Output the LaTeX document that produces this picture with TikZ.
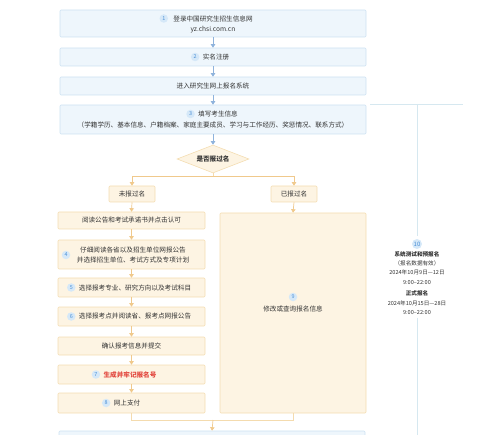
\documentclass[tikz,border=0pt]{standalone}
\usepackage{fontspec}
\setmainfont{Noto Sans CJK SC}
\usetikzlibrary{arrows.meta,shapes.geometric,positioning}
\definecolor{bluebg}{HTML}{EEF6FC}
\definecolor{bluebd}{HTML}{CDE2F1}
\definecolor{bluear}{HTML}{8FB3DC}
\definecolor{orbg}{HTML}{FDF4E3}
\definecolor{orbd}{HTML}{F4DDB2}
\definecolor{orar}{HTML}{F0C98C}
\definecolor{numbg}{HTML}{D5E8F8}
\definecolor{numfg}{HTML}{4A8FD6}
\definecolor{redtx}{HTML}{E2463D}
\definecolor{maintx}{HTML}{333333}
\definecolor{tline}{HTML}{D6E8F0}
\tikzset{
  txt/.style={inner sep=0pt, text=maintx, font=\fontsize{6.6}{9}\selectfont},
  bbox/.style={draw=bluebd, fill=bluebg, rounded corners=1pt, line width=0.6pt, minimum width=306, inner sep=0pt},
  obox/.style={draw=orbd, fill=orbg, rounded corners=1pt, line width=0.6pt, inner sep=0pt},
  numc/.style={circle, fill=numbg, text=numfg, inner sep=0pt, minimum size=8.5, font=\fontsize{5.4}{5}\selectfont},
  barrow/.style={draw=bluear, line width=0.7pt, -{Triangle[width=4.5pt,length=3.5pt]}},
  oarrow/.style={draw=orar, line width=0.7pt, -{Triangle[width=4.5pt,length=3.5pt]}},
  oline/.style={draw=orbd!90!orar, line width=0.7pt},
}
\begin{document}
\begin{tikzpicture}[x=1pt,y=-1pt]
\useasboundingbox (0,0) rectangle (500,435);
\clip (0,0) rectangle (500,435);
% blue boxes
\node[bbox, minimum height=27] (b1) at (213,23.5) {};
\node[txt] (t1a) at (213,18.5) {登录中国研究生招生信息网};
\node[txt] (t1b) at (213,29.5) {yz.chsi.com.cn};
\node[numc, left=5pt of t1a] (n1) {1};
\node[bbox, minimum height=18] (b2) at (213,57) {};
\node[txt] (t2) at (216,57) {实名注册};
\node[numc, left=3pt of t2] (n2) {2};
\node[bbox, minimum height=18] (b3) at (213,86) {};
\node[txt] (t3) at (213,86) {进入研究生网上报名系统};
\node[bbox, minimum height=29] (b4) at (213,119.5) {};
\node[txt] (t4a) at (218,114) {填写考生信息};
\node[numc, left=3pt of t4a] (n4) {3};
\node[txt] (t4b) at (213,125) {（学籍学历、基本信息、户籍档案、家庭主要成员、学习与工作经历、奖惩情况、联系方式）};
\draw[barrow] (b1.south) -- (b2.north);
\draw[barrow] (b2.south) -- (b3.north);
\draw[barrow] (b3.south) -- (b4.north);
% diamond
\node[diamond, draw=orbd, fill=orbg, line width=0.6pt, minimum width=72, minimum height=28, inner sep=0pt] (dq) at (213,159) {};
\node[txt, font=\fontsize{6.6}{9}\selectfont\bfseries] (tdq) at (213,159) {是否报过名};
\draw[barrow] (b4.south) -- (dq.north);
\coordinate (split) at (213,176);
\node[obox, minimum width=46, minimum height=16] (nno) at (132,194) {};
\node[txt] (tno) at (132,194) {未报过名};
\node[obox, minimum width=46, minimum height=16] (nyes) at (294,194) {};
\node[txt] (tyes) at (294,194) {已报过名};
\draw[oline] (dq.south) -- (split);
\draw[oarrow] (split) -| (nno.north);
\draw[oarrow] (split) -| (nyes.north);
% left column
\node[obox, minimum width=147, minimum height=17] (l1) at (131.5,220.5) {};
\node[txt] (tl1) at (131.5,220.5) {阅读公告和考试承诺书并点击认可};
\node[obox, minimum width=147, minimum height=29] (l2) at (131.5,254.5) {};
\node[txt] (tl2a) at (133,249.5) {仔细阅读各省以及招生单位网报公告};
\node[txt] (tl2b) at (133,260) {并选择招生单位、考试方式及专项计划};
\node[numc] (nl2) at (66,255) {4};
\node[obox, minimum width=147, minimum height=19] (l3) at (131.5,287.5) {};
\node[txt] (tl3) at (135,287.5) {选择报考专业、研究方向以及考试科目};
\node[numc, left=3pt of tl3] (nl3) {5};
\node[obox, minimum width=147, minimum height=19] (l4) at (131.5,316.5) {};
\node[txt] (tl4) at (135,316.5) {选择报考点并阅读省、报考点网报公告};
\node[numc, left=3pt of tl4] (nl4) {6};
\node[obox, minimum width=147, minimum height=18] (l5) at (131.5,346) {};
\node[txt] (tl5) at (131.5,346) {确认报考信息并提交};
\node[obox, minimum width=147, minimum height=19] (l6) at (131.5,374.5) {};
\node[txt, text=redtx, font=\fontsize{6.6}{9}\selectfont\bfseries] (tl6) at (130,374.5) {生成并牢记报名号};
\node[numc, left=3pt of tl6] (nl6) {7};
\node[obox, minimum width=147, minimum height=20] (l7) at (131.5,403) {};
\node[txt] (tl7) at (127,403) {网上支付};
\node[numc, left=3pt of tl7] (nl7) {8};
\draw[oarrow] (nno.south) -- (l1.north);
\draw[oarrow] (l1.south) -- (l2.north);
\draw[oarrow] (l2.south) -- (l3.north);
\draw[oarrow] (l3.south) -- (l4.north);
\draw[oarrow] (l4.south) -- (l5.north);
\draw[oarrow] (l5.south) -- (l6.north);
\draw[oarrow] (l6.south) -- (l7.north);
% right box
\node[obox, minimum width=146, minimum height=200] (r9) at (293,313) {};
\node[numc] (nr9) at (293,297) {9};
\node[txt] (tr9) at (293,309) {修改或查询报名信息};
\draw[oarrow] (nyes.south) -- (r9.north);
% merge
\coordinate (merge) at (213,420);
\draw[oline] (l7.south) |- (merge);
\draw[oline] (r9.south) |- (merge);
\node[bbox, minimum height=20] (b5) at (212,441) {};
\draw[oarrow] (merge) -- (b5.north);
% timeline
\coordinate (tl0) at (370,104);
\coordinate (tl1) at (463,104);
\coordinate (tv0) at (417,104);
\coordinate (tv1) at (417,440);
\draw[draw=tline, line width=0.6pt] (tl0) -- (tl1);
\node[numc, minimum size=10, font=\fontsize{6}{6}\selectfont] (n10) at (417,244) {10};
\node[inner sep=0pt, align=center, text=maintx, font=\fontsize{5.6}{9.3}\selectfont, below=2pt of n10] (tt) {%
  {\bfseries 系统测试和预报名}\\
  （报名数据有效）\\
  2024年10月9日—12日\\
  9:00–22:00\\[2.5pt]
  {\bfseries 正式报名}\\
  2024年10月15日—28日\\
  9:00–22:00};
\draw[draw=tline, line width=0.6pt] (tv0) -- ([yshift=3pt]n10.north);
\draw[draw=tline, line width=0.6pt] ([yshift=-3pt]tt.south) -- (tv1);
\end{tikzpicture}
\end{document}
